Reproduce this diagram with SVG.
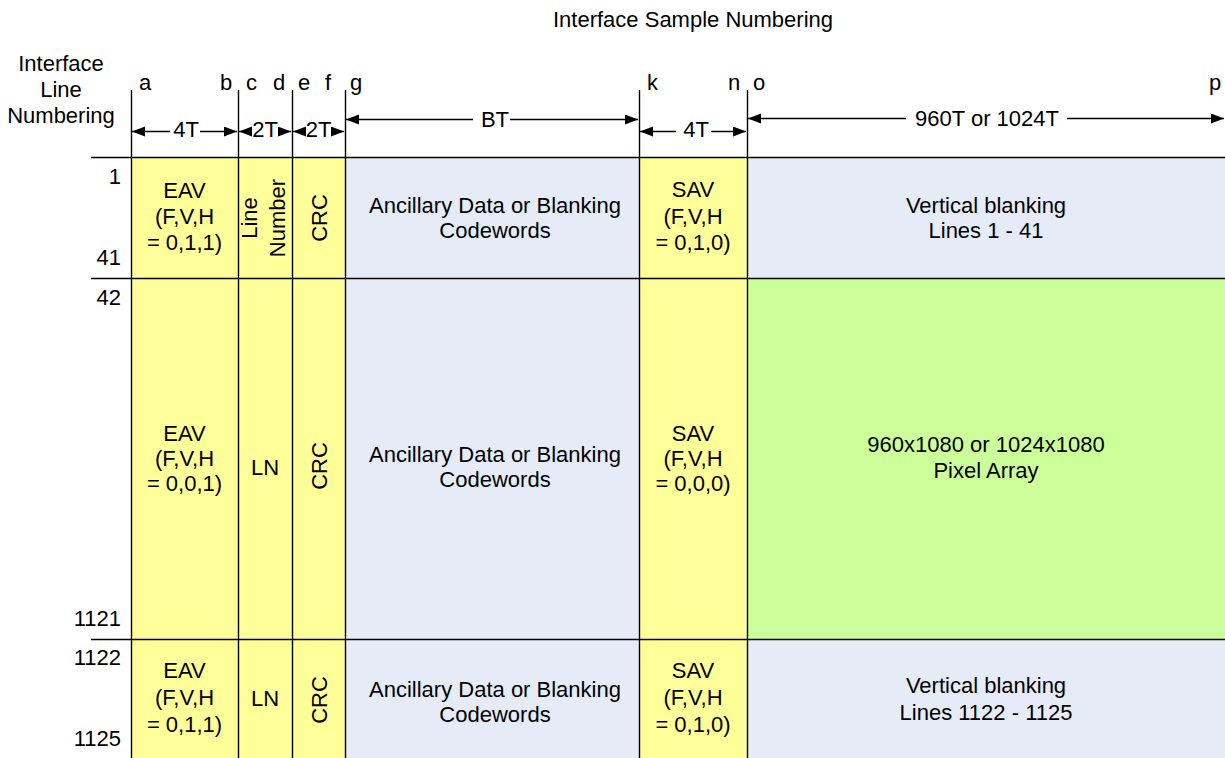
<svg xmlns="http://www.w3.org/2000/svg" width="1225" height="758" viewBox="0 0 1225 758">
<defs>
<style>
text{font-family:"Liberation Sans",Arial,sans-serif;font-size:22px;fill:#000}
.c{text-anchor:middle}
.r{text-anchor:end}
.y{fill:#FFFF99}
.b{fill:#E6ECF7}
.g{fill:#CCFF99}
.ln{stroke:#000;stroke-width:1.4;fill:none}
.dim{stroke:#000;stroke-width:1.4;fill:none}
</style>
<marker id="ah" markerUnits="userSpaceOnUse" markerWidth="14" markerHeight="12" refX="13" refY="5" orient="auto-start-reverse" viewBox="0 0 14 12">
<path d="M0,0 L13,5 L0,10 z" fill="#000"/>
</marker>
</defs>
<rect width="1225" height="758" fill="#fff"/>

<g id="title"><text class="c" x="693" y="27">Interface Sample Numbering</text></g>
<g id="row-label">
<text class="c" x="61" y="71">Interface</text>
<text class="c" x="61" y="97">Line</text>
<text class="c" x="61" y="123">Numbering</text>
</g>

<g id="line-numbers">
<text class="r" x="121" y="184">1</text>
<text class="r" x="121" y="265">41</text>
<text class="r" x="121" y="305">42</text>
<text class="r" x="121" y="626">1121</text>
<text class="r" x="121" y="665">1122</text>
<text class="r" x="121" y="746">1125</text>
</g>

<g id="sample-letters">
<text x="139" y="90">a</text>
<text x="220" y="90">b</text>
<text x="246" y="90">c</text>
<text x="273" y="90">d</text>
<text x="298" y="90">e</text>
<text x="325" y="90">f</text>
<text x="350" y="90">g</text>
<text x="647" y="90">k</text>
<text x="728" y="90">n</text>
<text x="753" y="90">o</text>
<text x="1209" y="90">p</text>
</g>

<!-- Row 1 -->
<g id="eav1"><rect class="y" x="131" y="157" width="107" height="121"/>
<text class="c" x="184.5" y="198">EAV</text><text class="c" x="184.5" y="224">(F,V,H</text><text class="c" x="184.5" y="250">= 0,1,1)</text></g>
<g id="ln1"><rect class="y" x="238" y="157" width="54" height="121"/>
<g transform="translate(265,218) rotate(-90)"><text class="c" x="0" y="-8">Line</text><text class="c" x="0" y="20">Number</text></g></g>
<g id="crc1"><rect class="y" x="292" y="157" width="53" height="121"/>
<text class="c" transform="translate(318.5,218) rotate(-90)" x="0" y="8">CRC</text></g>
<g id="anc1"><rect class="b" x="345" y="157" width="294" height="121"/>
<text class="c" x="495" y="213">Ancillary Data or Blanking</text><text class="c" x="495" y="238">Codewords</text></g>
<g id="sav1"><rect class="y" x="639" y="157" width="108" height="121"/>
<text class="c" x="693" y="197">SAV</text><text class="c" x="693" y="224">(F,V,H</text><text class="c" x="693" y="250">= 0,1,0)</text></g>
<g id="vb1"><rect class="b" x="747" y="157" width="478" height="121"/>
<text class="c" x="986" y="213">Vertical blanking</text><text class="c" x="986" y="238">Lines 1 - 41</text></g>

<!-- Row 2 -->
<g id="eav2"><rect class="y" x="131" y="278" width="107" height="361"/>
<text class="c" x="184.5" y="441">EAV</text><text class="c" x="184.5" y="466">(F,V,H</text><text class="c" x="184.5" y="491">= 0,0,1)</text></g>
<g id="ln2"><rect class="y" x="238" y="278" width="54" height="361"/>
<text class="c" x="265" y="475">LN</text></g>
<g id="crc2"><rect class="y" x="292" y="278" width="53" height="361"/>
<text class="c" transform="translate(318.5,466) rotate(-90)" x="0" y="8">CRC</text></g>
<g id="anc2"><rect class="b" x="345" y="278" width="294" height="361"/>
<text class="c" x="495" y="462">Ancillary Data or Blanking</text><text class="c" x="495" y="487">Codewords</text></g>
<g id="sav2"><rect class="y" x="639" y="278" width="108" height="361"/>
<text class="c" x="693" y="441">SAV</text><text class="c" x="693" y="466">(F,V,H</text><text class="c" x="693" y="491">= 0,0,0)</text></g>
<g id="pixel"><rect class="g" x="747" y="278" width="478" height="361"/>
<text class="c" x="986" y="452">960x1080 or 1024x1080</text><text class="c" x="986" y="478">Pixel Array</text></g>

<!-- Row 3 -->
<g id="eav3"><rect class="y" x="131" y="639" width="107" height="119"/>
<text class="c" x="184.5" y="678">EAV</text><text class="c" x="184.5" y="705">(F,V,H</text><text class="c" x="184.5" y="732">= 0,1,1)</text></g>
<g id="ln3"><rect class="y" x="238" y="639" width="54" height="119"/>
<text class="c" x="265" y="706">LN</text></g>
<g id="crc3"><rect class="y" x="292" y="639" width="53" height="119"/>
<text class="c" transform="translate(318.5,700) rotate(-90)" x="0" y="8">CRC</text></g>
<g id="anc3"><rect class="b" x="345" y="639" width="294" height="119"/>
<text class="c" x="495" y="697">Ancillary Data or Blanking</text><text class="c" x="495" y="722">Codewords</text></g>
<g id="sav3"><rect class="y" x="639" y="639" width="108" height="119"/>
<text class="c" x="693" y="678">SAV</text><text class="c" x="693" y="705">(F,V,H</text><text class="c" x="693" y="732">= 0,1,0)</text></g>
<g id="vb3"><rect class="b" x="747" y="639" width="478" height="119"/>
<text class="c" x="986" y="693">Vertical blanking</text><text class="c" x="986" y="720">Lines 1122 - 1125</text></g>

<g id="grid">
<path class="ln" d="M91,157.5H1225M91,278.5H1225M91,639.5H1225"/>
<path class="ln" d="M131.5,90V758M238.5,90V758M292.5,90V758M345.5,90V758M639.5,90V758M747.5,90V758"/>
</g>

<g id="connectors">
<path class="dim" d="M170,131.5H132" marker-end="url(#ah)"/>
<path class="dim" d="M200,131.5H237" marker-end="url(#ah)"/>
<text class="c" x="186" y="137">4T</text>
<path class="dim" d="M251,131.5H239" marker-end="url(#ah)"/>
<path class="dim" d="M279,131.5H291" marker-end="url(#ah)"/>
<text class="c" x="265" y="137">2T</text>
<path class="dim" d="M305,131.5H293" marker-end="url(#ah)"/>
<path class="dim" d="M332,131.5H344" marker-end="url(#ah)"/>
<text class="c" x="318.5" y="137">2T</text>
<path class="dim" d="M473,119.5H346" marker-end="url(#ah)"/>
<path class="dim" d="M510,119.5H638" marker-end="url(#ah)"/>
<text class="c" x="495" y="127">BT</text>
<path class="dim" d="M676,131.5H640" marker-end="url(#ah)"/>
<path class="dim" d="M711,131.5H746" marker-end="url(#ah)"/>
<text class="c" x="696" y="137">4T</text>
<path class="dim" d="M906,118.5H748" marker-end="url(#ah)"/>
<path class="dim" d="M1067,118.5H1224" marker-end="url(#ah)"/>
<text class="c" x="987" y="126">960T or 1024T</text>
</g>
</svg>
